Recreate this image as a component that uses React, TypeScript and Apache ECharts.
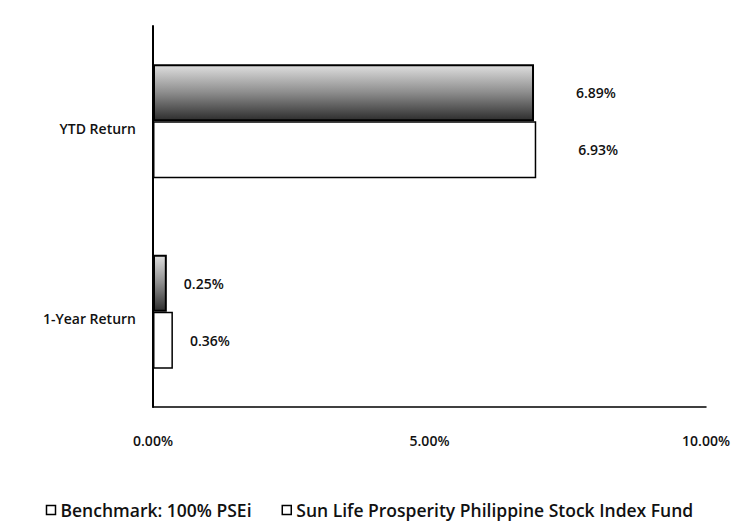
import React, { useEffect, useRef } from "react";
import * as echarts from "echarts";

const categories = ["YTD Return", "1-Year Return"];
const seriesNames = [
  "Benchmark: 100% PSEi",
  "Sun Life Prosperity Philippine Stock Index Fund",
];
const benchmarkValues = [6.89, 0.25];
const fundValues = [6.93, 0.36];
const xTicks = [0, 5, 10];

const FONT = '"Open Sans", "DejaVu Sans", sans-serif';
const labelDistance = [42, 17];

export default function App() {
  const ref = useRef<HTMLDivElement>(null);
  useEffect(() => {
    document.body.style.margin = "0";
    const chart = echarts.init(ref.current!, null, { renderer: "svg" });
    const mkData = (vals: number[]) =>
      vals.map((v, i) => ({
        value: v,
        label: { distance: labelDistance[i] },
      }));
    const label = {
      show: true,
      position: "right",
      formatter: (p: any) => `${Number(p.value).toFixed(2)}%`,
      color: "#111",
      fontSize: 14,
      fontWeight: 600,
      fontFamily: FONT,
    };
    chart.setOption({
      animation: false,
      backgroundColor: "#fff",
      textStyle: { fontFamily: FONT },
      grid: { left: 153, right: 33, top: 26, bottom: 125 },
      legend: {
        bottom: 8,
        left: "center",
        itemWidth: 9,
        itemHeight: 9,
        itemGap: 30,
        icon: "rect",
        data: seriesNames,
        itemStyle: { color: "#fff", borderColor: "#000", borderWidth: 1.5 },
        textStyle: { fontSize: 17.5, fontWeight: 600, color: "#111", fontFamily: FONT },
      },
      xAxis: {
        type: "value",
        min: xTicks[0],
        max: xTicks[xTicks.length - 1],
        interval: xTicks[1] - xTicks[0],
        axisLine: { show: true, lineStyle: { color: "#000", width: 1.5 } },
        axisTick: { show: false },
        splitLine: { show: false },
        axisLabel: {
          margin: 26,
          fontSize: 14,
          fontWeight: 600,
          color: "#111",
          fontFamily: FONT,
          formatter: (v: number) => `${v.toFixed(2)}%`,
        },
      },
      yAxis: {
        type: "category",
        inverse: true,
        data: categories,
        axisLine: { show: true, lineStyle: { color: "#000", width: 2 } },
        axisTick: { show: false },
        axisLabel: {
          margin: 17,
          verticalAlign: "top",
          fontSize: 14,
          fontWeight: 600,
          color: "#111",
          fontFamily: FONT,
        },
      },
      series: [
        {
          name: seriesNames[0],
          type: "bar",
          barWidth: 57,
          barGap: "0%",
          data: mkData(benchmarkValues),
          label,
          itemStyle: {
            color: new echarts.graphic.LinearGradient(0, 0, 0, 1, [
              { offset: 0, color: "#dedede" },
              { offset: 0.5, color: "#8c8c8c" },
              { offset: 1, color: "#2e2e2e" },
            ]),
            borderColor: "#000",
            borderWidth: 2,
          },
        },
        {
          name: seriesNames[1],
          type: "bar",
          barWidth: 57,
          barGap: "0%",
          data: mkData(fundValues),
          label,
          itemStyle: { color: "#fff", borderColor: "#000", borderWidth: 1.5 },
        },
      ],
    });
    return () => chart.dispose();
  }, []);
  return <div ref={ref} style={{ width: 739, height: 532 }} />;
}
